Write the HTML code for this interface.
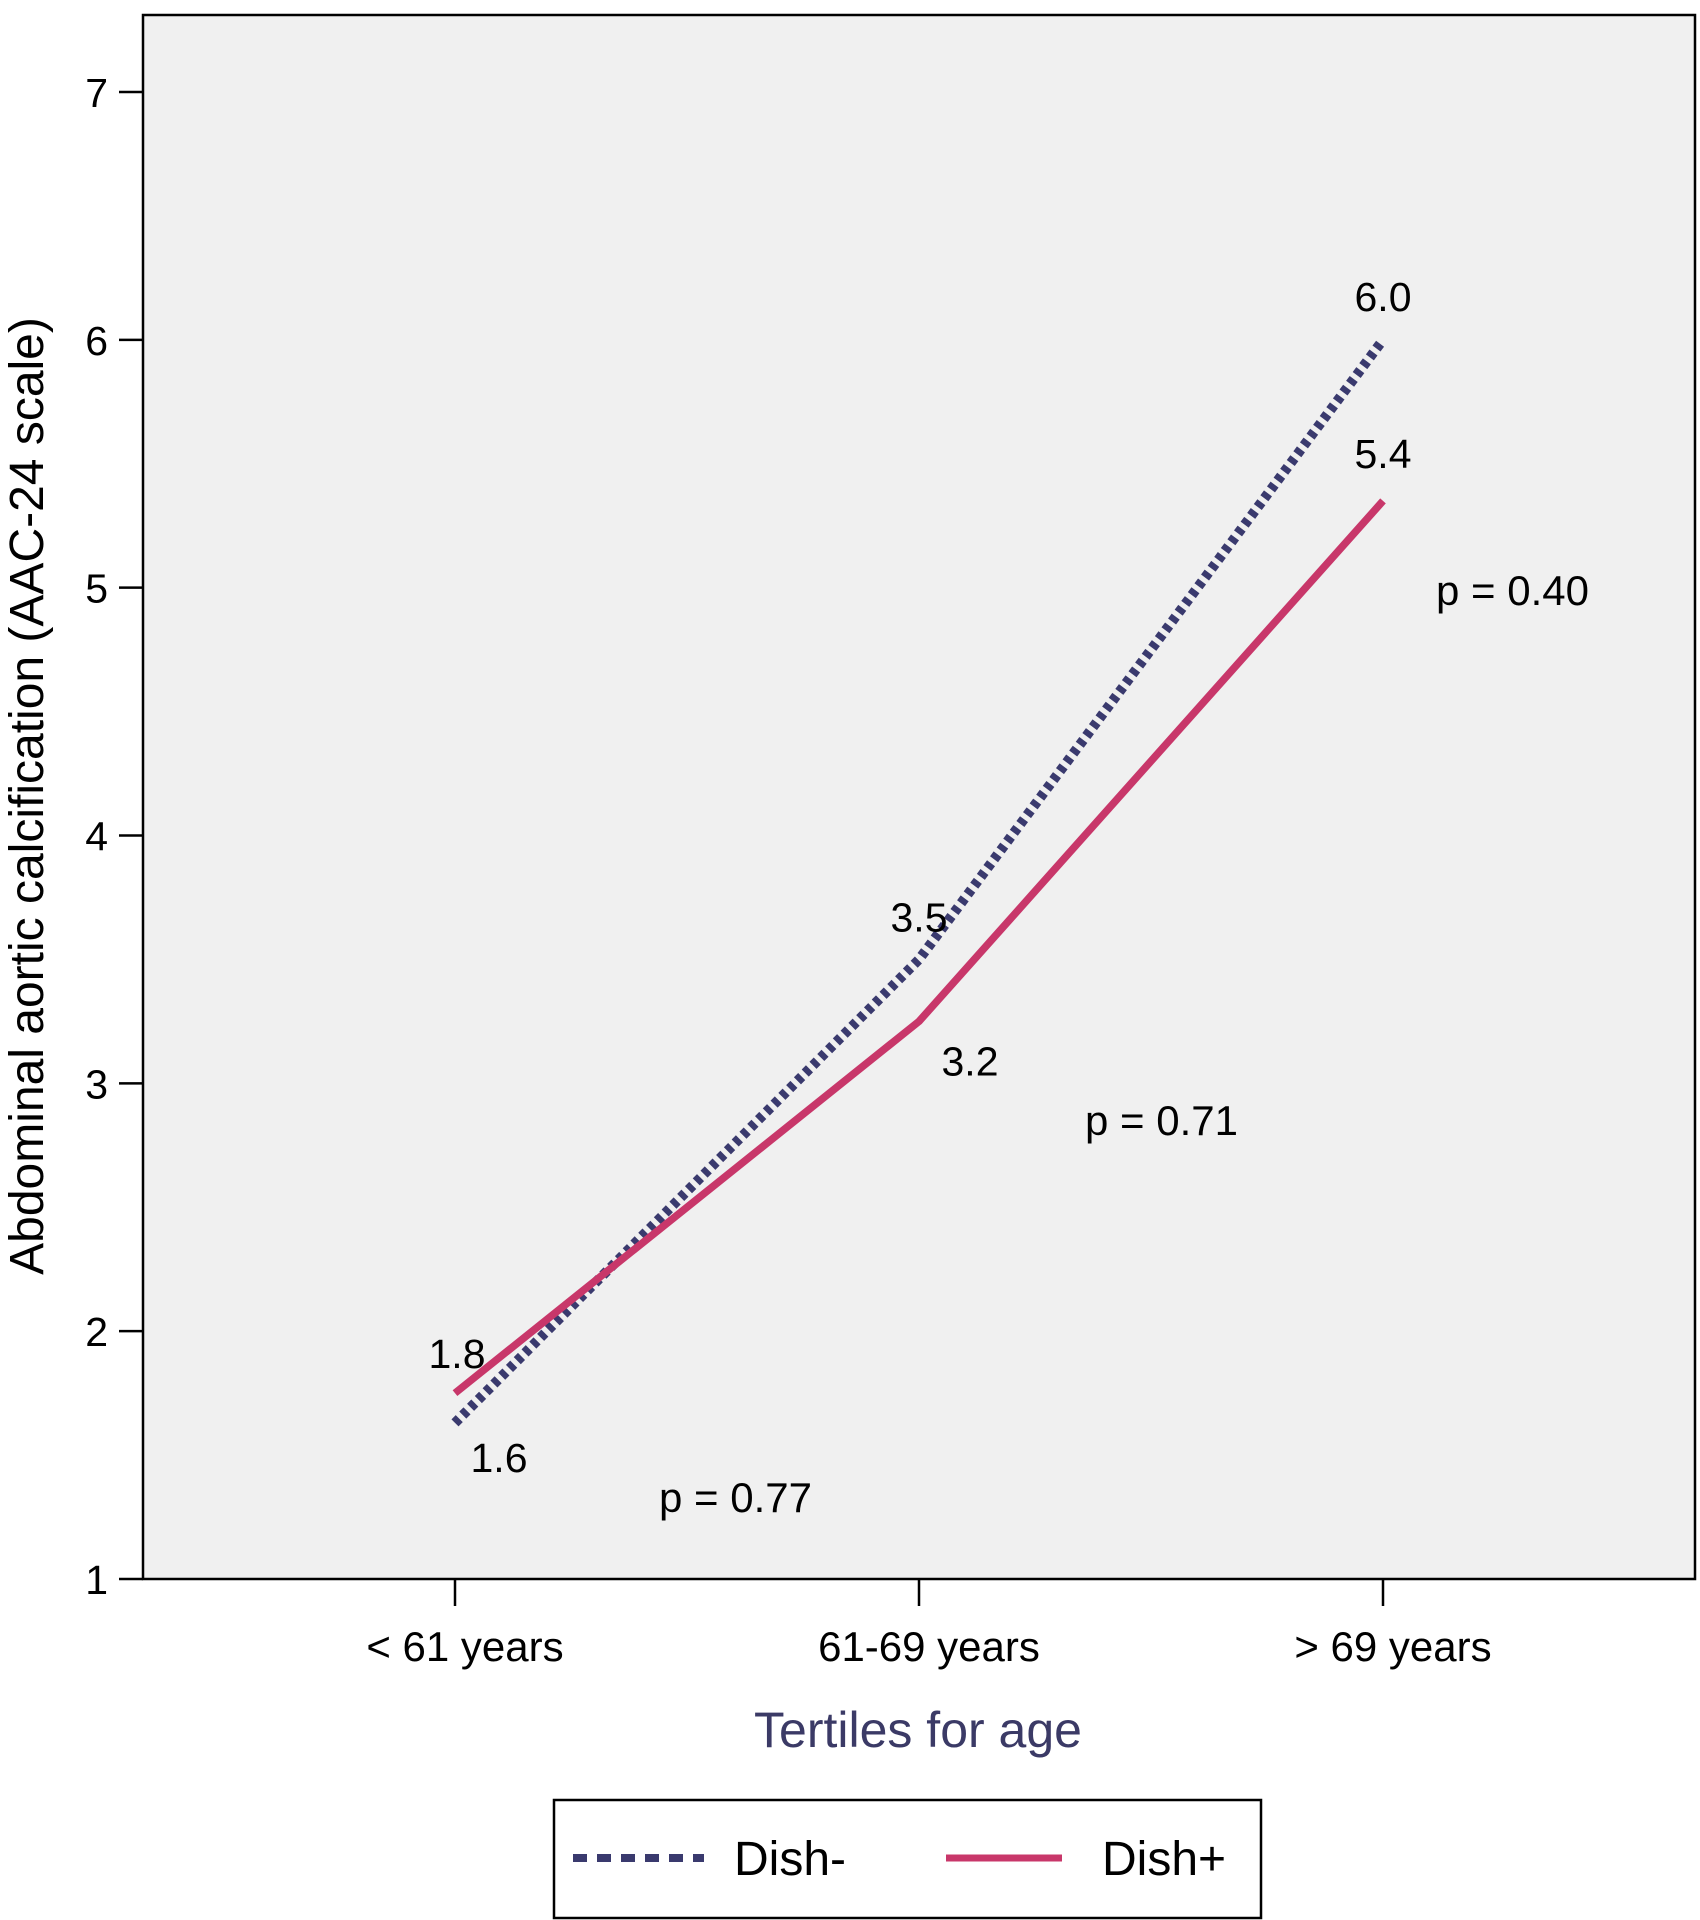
<!DOCTYPE html>
<html><head><meta charset="utf-8"><style>
html,body{margin:0;padding:0;background:#fff;}
svg{display:block;font-family:"Liberation Sans",sans-serif;}
</style></head><body>
<svg id="chart" width="1700" height="1920" viewBox="0 0 1700 1920" xmlns="http://www.w3.org/2000/svg">
<rect x="143" y="15" width="1552" height="1564" fill="#f0f0f0" stroke="#000" stroke-width="2.5"/>
<g id="axes"></g>
<g id="series"></g>
<g id="labels"></g>
<text x="918" y="1747" font-size="50" fill="#3b3a66" text-anchor="middle">Tertiles for age</text>
<text transform="translate(43,796) rotate(-90)" font-size="48" fill="#000" text-anchor="middle">Abdominal aortic calcification (AAC-24 scale)</text>
<g>
<rect x="554" y="1800" width="707" height="118" fill="#fff" stroke="#000" stroke-width="2.5"/>
<line x1="573" y1="1858" x2="704" y2="1858" stroke="#3a3a6e" stroke-width="8" stroke-dasharray="14 10"/>
<text x="734" y="1875" font-size="48">Dish-</text>
<line x1="946" y1="1858" x2="1062" y2="1858" stroke="#c8376a" stroke-width="7"/>
<text x="1102" y="1875" font-size="48">Dish+</text>
</g>
</svg>
<script>
const categories = ["< 61 years","61-69 years","> 69 years"];
const dishMinus = [1.63, 3.5, 6.0];
const dishPlus = [1.75, 3.25, 5.35];
const dishMinusLabels = ["1.6","3.5","6.0"];
const dishPlusLabels = ["1.8","3.2","5.4"];
const yTicks = [1,2,3,4,5,6,7];
const pValues = ["p = 0.77","p = 0.71","p = 0.40"];

const NS="http://www.w3.org/2000/svg";
const xPos = i => 455 + i*464;
const yPos = v => 1579 - (v-1)*(1579-92)/6;
function mk(tag, attrs, parent, text){
  const e=document.createElementNS(NS,tag);
  for(const k in attrs) e.setAttribute(k,attrs[k]);
  if(text!==undefined) e.textContent=text;
  parent.appendChild(e); return e;
}
const axes=document.getElementById('axes');
yTicks.forEach(t=>{
  const l=mk('line',{x1:119,x2:143,y1:yPos(t),y2:yPos(t),stroke:'#000','stroke-width':2.5},axes);
  
  
  const tx=mk('text',{x:108,y:yPos(t)+15,'font-size':41,'text-anchor':'end'},axes,String(t));
  
  
});
categories.forEach((c,i)=>{
  const l=mk('line',{x1:xPos(i),x2:xPos(i),y1:1579,y2:1606,stroke:'#000','stroke-width':2.5},axes);
  
  
  const tx=mk('text',{x:xPos(i)+10,y:1661,'font-size':42,'text-anchor':'middle'},axes,c);
  
  
});
const series=document.getElementById('series');
const pts = arr => arr.map((v,i)=>xPos(i)+','+yPos(v)).join(' ');
const dm=mk('polyline',{points:pts(dishMinus),fill:'none',stroke:'#3a3a6e','stroke-width':10,'stroke-dasharray':'6 5'},series);


const dp=mk('polyline',{points:pts(dishPlus),fill:'none',stroke:'#c8376a','stroke-width':7.5,'stroke-linejoin':'round'},series);


const labels=document.getElementById('labels');
const minusOff=[[44,34],[0,-43],[0,-44]];
const plusOff=[[2,-40],[51,39],[0,-48]];
dishMinus.forEach((v,i)=>{
  const t=mk('text',{x:xPos(i)+minusOff[i][0],y:yPos(v)+minusOff[i][1]+15,'font-size':41,'text-anchor':'middle'},labels,dishMinusLabels[i]);
  
  
});
dishPlus.forEach((v,i)=>{
  const t=mk('text',{x:xPos(i)+plusOff[i][0],y:yPos(v)+plusOff[i][1]+15,'font-size':41,'text-anchor':'middle'},labels,dishPlusLabels[i]);
  
  
});
const pPos=[[659,1512],[1085,1135],[1436,605]];
pValues.forEach((p,i)=>{
  const t=mk('text',{x:pPos[i][0],y:pPos[i][1],'font-size':42},labels,p);
  
  
});
</script>
</body></html>
